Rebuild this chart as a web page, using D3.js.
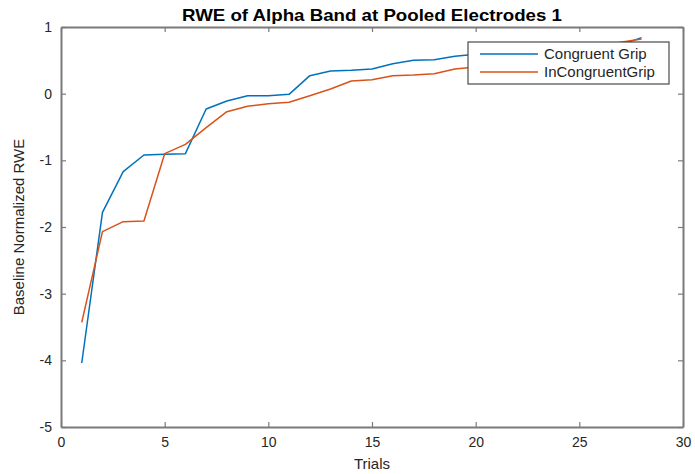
<!DOCTYPE html>
<html>
<head>
<meta charset="utf-8">
<script src="https://cdn.jsdelivr.net/npm/d3@7"></script>
<style>
  body { margin: 0; background: #ffffff; }
  svg { display: block; font-family: "Liberation Sans", Arial, sans-serif; }
</style>
</head>
<body>
<svg id="chart" width="695" height="474"></svg>
<script>
// Chart data
const trials = [1, 2, 3, 4, 5, 6, 7, 8, 9, 10, 11, 12, 13, 14, 15, 16, 17, 18, 19, 20, 21, 22, 23, 24, 25, 26, 27, 28];
const congruent = [-4.04, -1.78, -1.17, -0.92, -0.91, -0.90, -0.23, -0.11, -0.03, -0.03, -0.01, 0.27,
  0.34, 0.35, 0.37, 0.45, 0.50, 0.51, 0.56, 0.59, 0.62, 0.64, 0.66, 0.68, 0.70, 0.71, 0.73, 0.84];
const incongruent = [-3.43, -2.07, -1.92, -1.91, -0.90, -0.76, -0.51, -0.27, -0.19, -0.15, -0.13, -0.03,
  0.07, 0.19, 0.21, 0.27, 0.28, 0.30, 0.37, 0.40, 0.45, 0.50, 0.55, 0.60, 0.65, 0.70, 0.77, 0.82];
const xTicks = [0, 5, 10, 15, 20, 25, 30];
const yTicks = [1, 0, -1, -2, -3, -4, -5];
const seriesNames = ["Congruent Grip", "InCongruentGrip"];

const colors = ["#0072bd", "#d95319"];
const axisColor = "#7a7a7a";
const textColor = "#262626";

const svg = d3.select("#chart");
const margin = {left: 61, right: 12, top: 27, bottom: 47};
const width = 695 - margin.left - margin.right;
const height = 474 - margin.top - margin.bottom;

const x = d3.scaleLinear().domain([0, 30]).range([margin.left, margin.left + width]);
const y = d3.scaleLinear().domain([-5, 1]).range([margin.top + height, margin.top]);

// Axes with inward ticks on all four sides
const tickLen = 5;
const plain = (d) => String(d);
const axes = svg.append("g").attr("class", "axes");

axes.append("g")
  .attr("transform", `translate(0,${y(-5)})`)
  .call(d3.axisBottom(x).tickValues(xTicks).tickFormat(plain).tickSizeInner(-tickLen).tickSizeOuter(0).tickPadding(10));
axes.append("g")
  .attr("transform", `translate(0,${y(1)})`)
  .call(d3.axisTop(x).tickValues(xTicks).tickSizeInner(-tickLen).tickSizeOuter(0).tickFormat(""));
axes.append("g")
  .attr("transform", `translate(${x(0)},0)`)
  .call(d3.axisLeft(y).tickValues(yTicks).tickFormat(plain).tickSizeInner(-tickLen).tickSizeOuter(0).tickPadding(9));
axes.append("g")
  .attr("transform", `translate(${x(30)},0)`)
  .call(d3.axisRight(y).tickValues(yTicks).tickSizeInner(-tickLen).tickSizeOuter(0).tickFormat(""));

axes.selectAll(".domain").attr("stroke", axisColor).attr("stroke-width", 2);
axes.selectAll(".tick line").attr("stroke", axisColor).attr("stroke-width", 1.2);
axes.selectAll(".tick text")
  .attr("fill", textColor)
  .style("font-size", "14px");

// Series lines
const line = (vals) => d3.line()
  .x((d, i) => x(trials[i]))
  .y((d) => y(d))(vals);

[congruent, incongruent].forEach((vals, i) => {
  svg.append("path")
    .attr("d", line(vals))
    .attr("fill", "none")
    .attr("stroke", colors[i])
    .attr("stroke-width", 1.5)
    .attr("stroke-linejoin", "round");
});

// Title and axis labels
svg.append("text")
  .attr("x", x(15))
  .attr("y", 21)
  .attr("text-anchor", "middle")
  .attr("font-weight", "bold")
  .style("font-size", "17px")
  .attr("textLength", 380)
  .attr("lengthAdjust", "spacingAndGlyphs")
  .attr("fill", "#000")
  .text("RWE of Alpha Band at Pooled Electrodes 1");

svg.append("text")
  .attr("x", x(15))
  .attr("y", 469)
  .attr("text-anchor", "middle")
  .style("font-size", "15px")
  .attr("fill", textColor)
  .text("Trials");

svg.append("text")
  .attr("transform", `translate(24,${y(-2)})rotate(-90)`)
  .attr("text-anchor", "middle")
  .style("font-size", "15px")
  .attr("fill", textColor)
  .text("Baseline Normalized RWE");

// Legend
const legend = svg.append("g").attr("transform", "translate(468,42)");
legend.append("rect")
  .attr("width", 201)
  .attr("height", 42)
  .attr("fill", "#fff")
  .attr("stroke", "#4a4a4a")
  .attr("stroke-width", 1.2);

seriesNames.forEach((name, i) => {
  const row = legend.append("g").attr("transform", `translate(0,${12 + i * 18})`);
  row.append("line")
    .attr("x1", 12).attr("x2", 70)
    .attr("stroke", colors[i])
    .attr("stroke-width", 1.5);
  row.append("text")
    .attr("x", 76)
    .attr("y", 5)
    .style("font-size", "15px")
    .attr("fill", textColor)
    .text(name);
});
</script>
</body>
</html>
